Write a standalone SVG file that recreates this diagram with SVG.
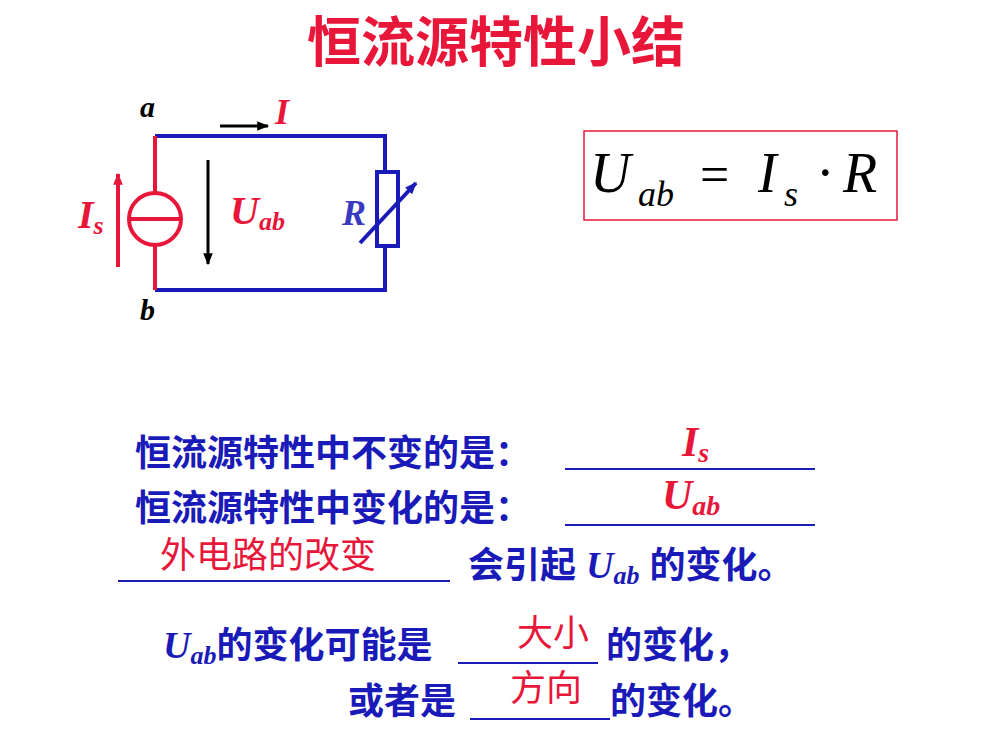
<svg xmlns="http://www.w3.org/2000/svg" width="1000" height="750" viewBox="0 0 1000 750">
<style>
.cn{font-family:"Liberation Sans","Noto Sans CJK SC",sans-serif;font-weight:bold;font-size:36px;fill:#1a1ab8}
.rd{fill:#e8173a}
.it{font-family:"Liberation Serif",serif;font-style:italic;font-weight:bold}
.ul{stroke:#1a1ab8;stroke-width:2}
.rc{font-family:"Liberation Sans","Noto Sans CJK SC",sans-serif;font-size:36px;fill:#e8173a}
</style>
<defs>
<marker id="ak" viewBox="0 0 10 10" refX="9" refY="5" markerWidth="12" markerHeight="12" orient="auto" markerUnits="userSpaceOnUse"><path d="M0,1L10,5L0,9Z" fill="#000"/></marker>
<marker id="ar" viewBox="0 0 10 10" refX="9" refY="5" markerWidth="12" markerHeight="12" orient="auto" markerUnits="userSpaceOnUse"><path d="M0,1L10,5L0,9Z" fill="#e8173a"/></marker>
<marker id="ab" viewBox="0 0 10 10" refX="9" refY="5" markerWidth="12" markerHeight="12" orient="auto" markerUnits="userSpaceOnUse"><path d="M0,1L10,5L0,9Z" fill="#1a1ab8"/></marker>
</defs>
<rect width="1000" height="750" fill="#fff"/>
<text x="496" y="62" text-anchor="middle" font-family="Liberation Sans,Noto Sans CJK SC,sans-serif" font-weight="bold" font-size="54" fill="#e8173a">恒流源特性小结</text>
<g id="circuit">
<path d="M155,136H385V172M385,246V290H155" fill="none" stroke="#1a1ab8" stroke-width="4"/>
<path d="M155,136V193M155,245V290" stroke="#e8173a" stroke-width="4"/>
<circle cx="155" cy="219" r="26" fill="none" stroke="#e8173a" stroke-width="4"/>
<line x1="129" y1="219" x2="181" y2="219" stroke="#e8173a" stroke-width="4"/>
<rect x="377" y="172" width="21" height="74" fill="none" stroke="#1a1ab8" stroke-width="4"/>
<line x1="360" y1="243" x2="416" y2="183" stroke="#1a1ab8" stroke-width="4" marker-end="url(#ab)"/>
<line x1="118" y1="267" x2="118" y2="174" stroke="#e8173a" stroke-width="4" marker-end="url(#ar)"/>
<line x1="208" y1="160" x2="208" y2="264" stroke="#000" stroke-width="3" marker-end="url(#ak)"/>
<line x1="220" y1="126" x2="268" y2="126" stroke="#000" stroke-width="3" marker-end="url(#ak)"/>
<text x="140" y="117" class="it" font-size="30">a</text>
<text x="140" y="320" class="it" font-size="30">b</text>
<text x="275" y="124" class="it rd" font-size="36">I</text>
<text x="78" y="228" class="it rd" font-size="40">I<tspan font-size="26" dy="6">s</tspan></text>
<text x="230" y="224" class="it rd" font-size="40">U<tspan font-size="26" dy="6">ab</tspan></text>
<text x="342" y="225" class="it" font-size="36" fill="#3a3ac0">R</text>
</g>
<g id="formula">
<rect x="584" y="131" width="313" height="89" fill="none" stroke="#e8173a" stroke-width="1.5"/>
<text x="590" y="192" font-family="Liberation Serif,serif" font-style="italic" font-size="56">U<tspan x="638" font-size="36" dy="14">ab</tspan><tspan x="700" font-style="normal" dy="-14" font-size="52">=</tspan><tspan x="758">I</tspan><tspan x="784" font-size="36" dy="14">s</tspan><tspan x="816" font-style="normal" dy="-14">·</tspan><tspan x="843">R</tspan></text>
</g>
<g id="text">
<text x="135" y="466" class="cn">恒流源特性中不变的是：</text>
<line x1="565" y1="469" x2="815" y2="469" class="ul"/>
<text x="682" y="456" class="it rd" font-size="42">I<tspan font-size="28" dy="6">s</tspan></text>
<text x="135" y="521" class="cn">恒流源特性中变化的是：</text>
<line x1="565" y1="525" x2="815" y2="525" class="ul"/>
<text x="662" y="509" class="it rd" font-size="42">U<tspan font-size="28" dy="6">ab</tspan></text>
<line x1="118" y1="581" x2="450" y2="581" class="ul"/>
<text x="160" y="568" class="rc">外电路的改变</text>
<text x="468" y="578" class="cn">会引起 <tspan class="it" font-size="38">U<tspan font-size="26" dy="6">ab</tspan></tspan><tspan dy="-6"> 的变化。</tspan></text>
<text x="163" y="658" class="cn"><tspan class="it" font-size="38">U<tspan font-size="26" dy="6">ab</tspan></tspan><tspan dy="-6">的变化可能是</tspan></text>
<line x1="458" y1="663" x2="598" y2="663" class="ul"/>
<text x="517" y="646" class="rc">大小</text>
<text x="606" y="658" class="cn">的变化，</text>
<text x="348" y="714" class="cn">或者是</text>
<line x1="470" y1="719" x2="610" y2="719" class="ul"/>
<text x="510" y="701" class="rc">方向</text>
<text x="610" y="714" class="cn">的变化。</text>
</g>
</svg>
